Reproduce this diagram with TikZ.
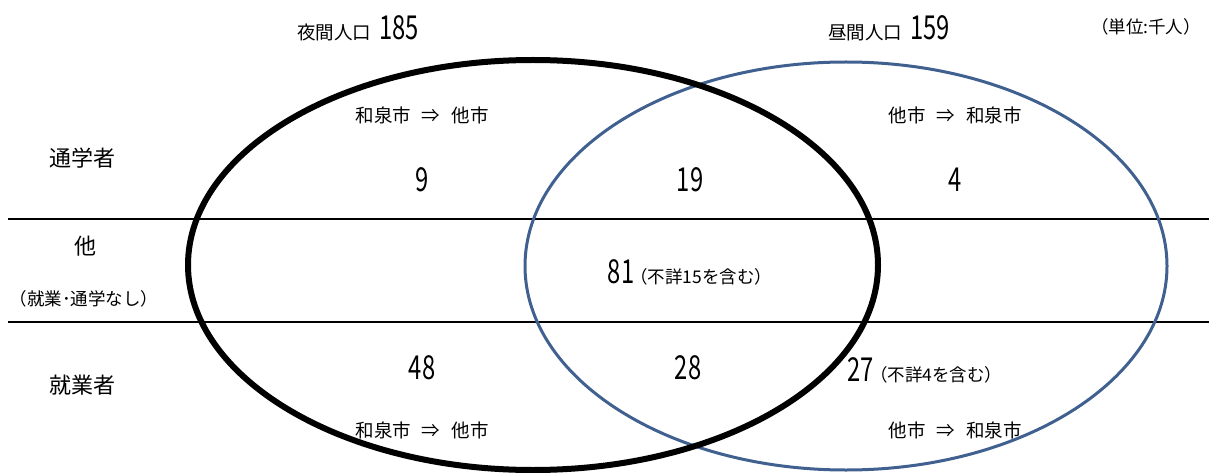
\documentclass[tikz,border=0pt]{standalone}
\usepackage{fontspec}
\newfontfamily\jp{Noto Sans CJK JP}
\newfontfamily\jpnum[FakeStretch=0.72]{Noto Sans CJK JP}
\definecolor{blueline}{RGB}{64,96,144}
\tikzset{
  lbl/.style={inner sep=0pt, font=\jp\fontsize{18.5}{20}\selectfont},
  unitlbl/.style={inner sep=0pt, font=\jp\fontsize{17.5}{20}\selectfont},
  rowlbl/.style={inner sep=0pt, font=\jp\fontsize{22}{24}\selectfont},
  numlbl/.style={inner sep=0pt, font=\jpnum\fontsize{33}{35}\selectfont},
  divline/.style={line width=2pt, black},
}
\newcommand{\smalljp}[1]{{\jp\fontsize{17.5}{19}\selectfont #1}}
\newcommand{\bignum}[1]{{\jpnum\fontsize{33}{35}\selectfont #1}}
\newcommand{\midjp}[1]{{\jp\fontsize{18.5}{20}\selectfont #1}}
\newcommand{\arrowgap}{\hspace{11pt}⇒\hspace{11pt}}
\begin{document}
\begin{tikzpicture}[x=1pt,y=-1pt]
\useasboundingbox (0,0) rectangle (1209,473);
% divider lines
\coordinate (l1a) at (8,219);
\coordinate (l1b) at (1209,219);
\coordinate (l2a) at (8,322);
\coordinate (l2b) at (1209,322);
\draw[divline] (l1a) -- (l1b);
\draw[divline] (l2a) -- (l2b);
% ellipses
\draw[blueline, line width=3pt] (846,266) ellipse [x radius=321, y radius=204];
\draw[black, line width=6pt] (533,265) ellipse [x radius=345, y radius=205];
% titles
\node[inner sep=0pt] (night) at (358,28) {\midjp{夜間人口}\hspace{8pt}\bignum{185}};
\node[inner sep=0pt] (day) at (889,28) {\midjp{昼間人口}\hspace{8pt}\bignum{159}};
\node[unitlbl] (unit) at (1146,27) {（単位:千人）};
% row labels
\node[rowlbl] (school) at (82,158) {通学者};
\node[rowlbl] (other) at (85,246) {他};
\node[unitlbl] (othersub) at (84,299) {（就業･通学なし）};
\node[rowlbl] (work) at (82,385) {就業者};
% direction labels
\node[lbl] (dirtl) at (422,115) {和泉市\arrowgap 他市};
\node[lbl] (dirtr) at (955,115) {他市\arrowgap 和泉市};
\node[lbl] (dirbl) at (422,430) {和泉市\arrowgap 他市};
\node[lbl] (dirbr) at (955,430) {他市\arrowgap 和泉市};
% numbers
\node[numlbl] (n9) at (422,180) {9};
\node[numlbl] (n19) at (690,180) {19};
\node[numlbl] (n4) at (955,180) {4};
\node[inner sep=0pt] (n81) at (690,272) {\bignum{81}\hspace{-4pt}\smalljp{（不詳15を含む）}};
\node[numlbl] (n48) at (422,368) {48};
\node[numlbl] (n28) at (688,368) {28};
\node[inner sep=0pt] (n27) at (925,370) {\bignum{27}\hspace{-4pt}\smalljp{（不詳4を含む）}};
\end{tikzpicture}
\end{document}
